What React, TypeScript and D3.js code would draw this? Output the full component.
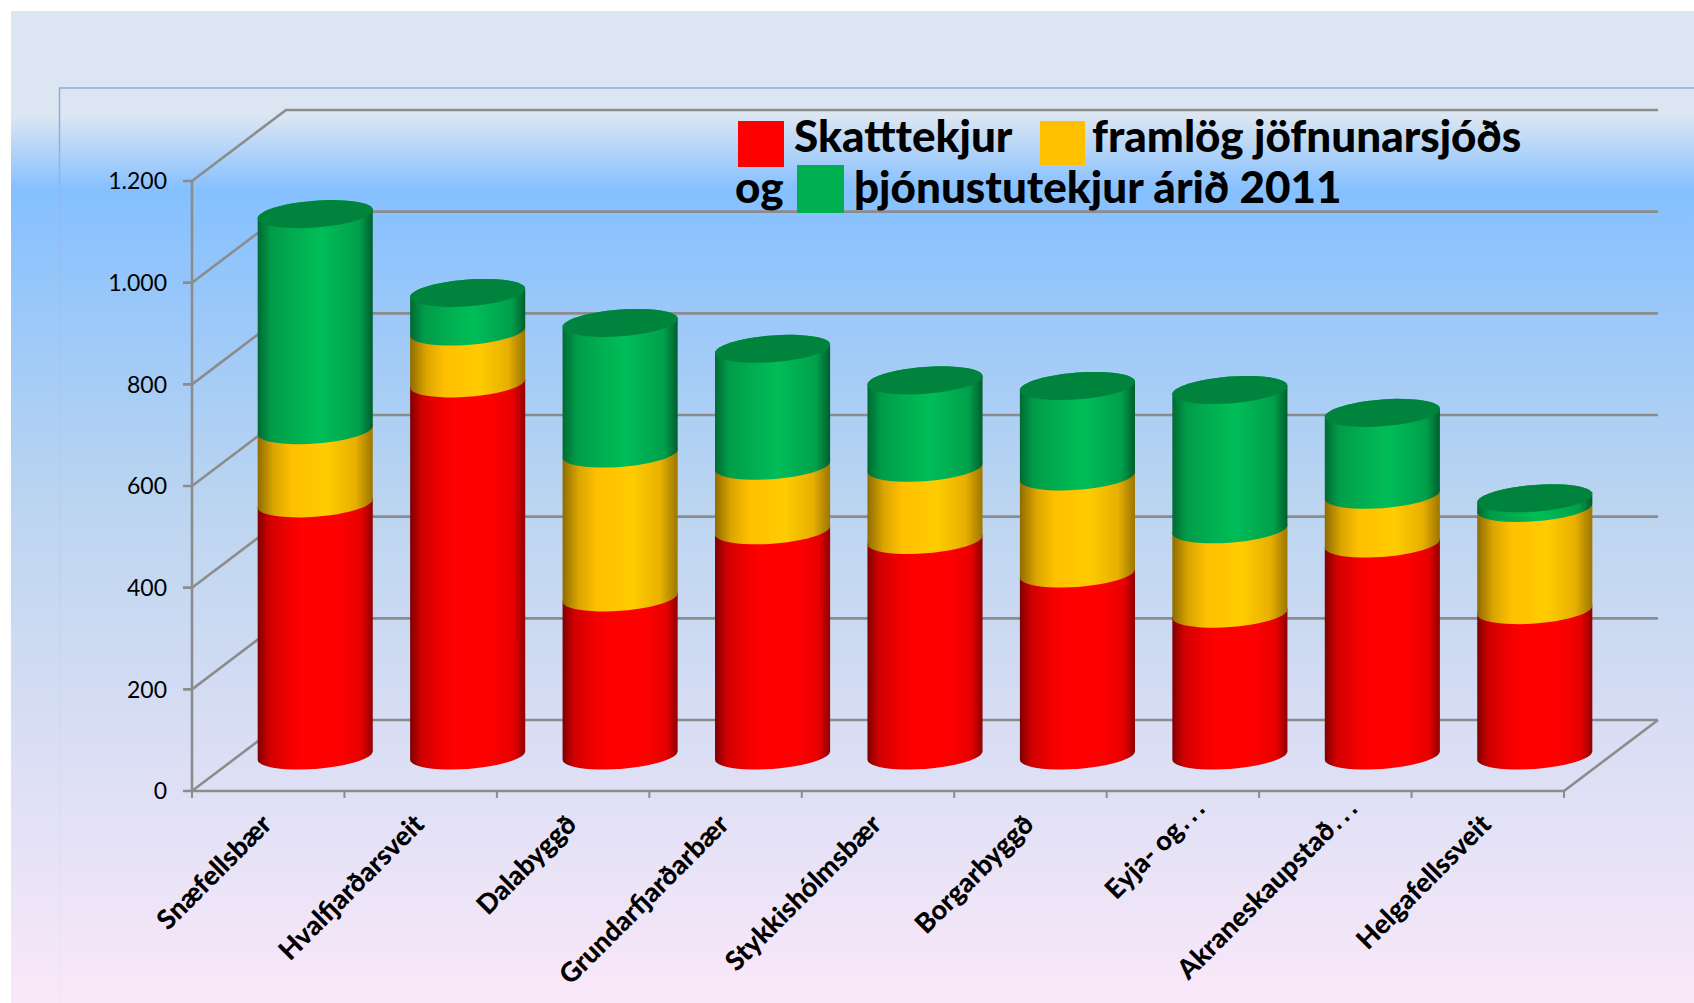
import React from "react";
import * as d3 from "d3";

const categories = [
  "Snæfellsbær",
  "Hvalfjarðarsveit",
  "Dalabyggð",
  "Grundarfjarðarbær",
  "Stykkishólmsbær",
  "Borgarbyggð",
  "Eyja- og…",
  "Akraneskaupstað…",
  "Helgafellssveit",
];
const skatttekjur = [496, 732, 311, 443, 424, 358, 279, 417, 286];
const framlog = [144, 102, 283, 127, 142, 191, 166, 96, 201];
const thjonusta = [425, 76, 257, 230, 172, 178, 274, 161, 19];
const yTicks = [0, 200, 400, 600, 800, 1000, 1200];
const yTickLabels = ["0", "200", "400", "600", "800", "1.000", "1.200"];
const seriesKeys = ["skatt", "framlog", "thjonusta"];

const width = 1694;
const height = 1003;
const depthX = 94;
const depthY = -71;
const gridColor = "#8c8c8c";
const font = "Lato, 'Open Sans', sans-serif";

const table = categories.map((c, i) => ({
  category: c,
  skatt: skatttekjur[i],
  framlog: framlog[i],
  thjonusta: thjonusta[i],
}));
const stacked = d3.stack().keys(seriesKeys)(table as any);

const x = d3.scaleBand().domain(categories).range([192, 1564]);
const y = d3.scaleLinear().domain([0, 1200]).range([791, 181]);

const cylWidth = x.bandwidth() * 0.755;
const rx = cylWidth / 2;
const ry = 13.4;
const tilt = 4.2;

// front half of the tilted ellipse, right to left
const frontAngles = d3.range(0, 25).map((i) => (i / 24) * Math.PI);
const ellipsePoint = (cx: number, cy: number, t: number): [number, number] => [
  cx + rx * Math.cos(t),
  cy + ry * Math.sin(t) - tilt * Math.cos(t),
];
const line = d3.line();

const bodyPath = (cx: number, yLow: number, yHigh: number) => {
  const low = frontAngles.map((t) => ellipsePoint(cx, yLow, t));
  const high = frontAngles.map((t) => ellipsePoint(cx, yHigh, -t));
  return line([...low, ...high.reverse()]) + "Z";
};
const topPath = (cx: number, cy: number) =>
  line(d3.range(0, 49).map((i) => ellipsePoint(cx, cy, (i / 48) * 2 * Math.PI))) + "Z";

const Shade = ({ id, stops }: { id: string; stops: [number, string][] }) => (
  <linearGradient id={id} x1="0" x2="1" y1="0" y2="0">
    {stops.map(([o, c]) => (
      <stop key={o} offset={o} stopColor={c} />
    ))}
  </linearGradient>
);

const App = () => {
  const mid = (d: string) => (x(d) as number) + x.bandwidth() / 2 + depthX / 2;
  const midY = (v: number) => y(v) + depthY / 2;

  return (
    <svg
      width={width}
      height={height}
      style={{ position: "absolute", left: 0, top: 0, display: "block" }}
    >
      <defs>
        <linearGradient id="page" gradientUnits="userSpaceOnUse" x1="0" x2="0" y1="11" y2="1003">
          <stop offset="0" stopColor="#dce6f2" />
          <stop offset="0.105" stopColor="#dce6f2" />
          <stop offset="0.18" stopColor="#85c0ff" />
          <stop offset="0.5" stopColor="#bcd5f0" />
          <stop offset="1" stopColor="#fae8f9" />
        </linearGradient>
        <linearGradient id="frame" gradientUnits="userSpaceOnUse" x1="0" x2="0" y1="87" y2="1003">
          <stop offset="0" stopColor="#8eaadb" />
          <stop offset="0.3" stopColor="#a9c4ec" />
          <stop offset="1" stopColor="#e8e8f6" />
        </linearGradient>
        <Shade
          id="skatt"
          stops={[
            [0, "#7f0000"],
            [0.1, "#d00000"],
            [0.3, "#f60000"],
            [0.4, "#ff0000"],
            [0.7, "#ff0000"],
            [0.9, "#e80000"],
            [1, "#8f0000"],
          ]}
        />
        <Shade
          id="framlog"
          stops={[
            [0, "#8f6c00"],
            [0.14, "#dba500"],
            [0.3, "#ffc000"],
            [0.6, "#ffcc00"],
            [0.85, "#e8b000"],
            [1, "#9c7600"],
          ]}
        />
        <Shade
          id="thjonusta"
          stops={[
            [0, "#006a33"],
            [0.12, "#009c49"],
            [0.35, "#00b050"],
            [0.55, "#00bd58"],
            [0.88, "#00a04b"],
            [1, "#005e2e"],
          ]}
        />
      </defs>

      <rect x={11} y={11} width={width - 11} height={height - 11} fill="url(#page)" />
      <path
        d={`M${width},88H59.5V${height}`}
        fill="none"
        stroke="url(#frame)"
        strokeWidth={1.5}
      />

      {/* walls */}
      {yTicks.map((t) => (
        <g key={t} stroke={gridColor} strokeWidth={2.6} fill="none">
          <path d={`M183,${y(t)}H192L${192 + depthX},${y(t) + depthY}H${1564 + depthX}`} />
        </g>
      ))}
      <path
        d={`M192,${y(1200)}V${y(0)}H1564L${1564 + depthX},${y(0) + depthY}`}
        fill="none"
        stroke={gridColor}
        strokeWidth={2.6}
      />
      {categories.map((c) => (
        <line
          key={c}
          x1={x(c)}
          x2={x(c)}
          y1={y(0)}
          y2={y(0) + 7}
          stroke={gridColor}
          strokeWidth={2}
        />
      ))}
      <line x1={1564} x2={1564} y1={y(0)} y2={y(0) + 7} stroke={gridColor} strokeWidth={2} />

      {yTicks.map((t, i) => (
        <text
          key={t}
          x={167}
          y={y(t)}
          dy="0.36em"
          textAnchor="end"
          fontFamily={font}
          fontSize={23}
          fill="#000"
        >
          {yTickLabels[i]}
        </text>
      ))}

      {/* cylinders */}
      {categories.map((c, i) => (
        <g key={c}>
          {stacked.map((s) => (
            <path
              key={s.key}
              d={bodyPath(mid(c), midY(s[i][0]), midY(s[i][1]))}
              fill={`url(#${s.key})`}
            />
          ))}
          <path d={topPath(mid(c), midY(stacked[2][i][1]))} fill="#00843d" />
        </g>
      ))}

      {/* category labels, the truncated ones run further along the diagonal */}
      {categories.map((c) => {
        const cut = c.endsWith("…");
        const lx = (x(c) as number) + x.bandwidth() / 2 + 5 + (cut ? 20 : 0);
        const ly = 826 - (cut ? 17 : 0);
        return (
          <text
            key={c}
            transform={`translate(${lx},${ly}) rotate(-45)`}
            textAnchor="end"
            fontFamily={font}
            fontWeight={900}
            fontSize={27}
            fill="#000"
          >
            {c.replace("…", "")}
            {cut && (
              <tspan fontFamily="'DejaVu Sans'" fontWeight={400} fontSize={33}>
                …
              </tspan>
            )}
          </text>
        );
      })}

      {/* legend */}
      <g fontFamily={font} fontWeight={900} fontSize={44} fill="#000">
        <rect x={738} y={121} width={46} height={46} fill="#ff0000" />
        <rect x={1040} y={121} width={45} height={44} fill="#ffc000" />
        <rect x={797} y={165} width={47} height={48} fill="#00b050" />
        <text x={794} y={152}>Skatttekjur</text>
        <text x={1092} y={152}>framlög jöfnunarsjóðs</text>
        <text x={735} y={203}>og</text>
        <text x={854} y={203}>þjónustutekjur árið 2011</text>
      </g>
    </svg>
  );
};

export default App;
